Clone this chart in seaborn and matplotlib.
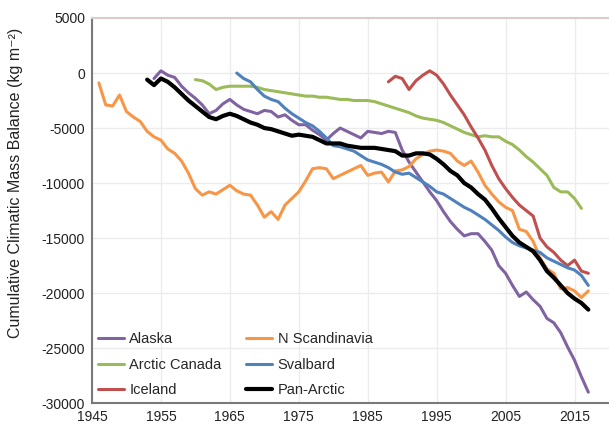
import matplotlib
matplotlib.use("Agg")
import matplotlib.pyplot as plt
import seaborn as sns
import pandas as pd

# cumulative climatic mass balance (kg m-2)
alaska_years = list(range(1954, 2018))
alaska = [-500, 200, -200, -400, -1200, -1800, -2300, -2900, -3700, -3400,
          -2800, -2400, -2900, -3300, -3500, -3700, -3400, -3500, -4000, -3800,
          -4300, -4700, -4700, -5200, -5600, -6100, -5500, -5000, -5300, -5600,
          -5900, -5300, -5400, -5500, -5300, -5400, -7000, -8100, -9000, -9900,
          -10800, -11600, -12600, -13500, -14200, -14800, -14600, -14600, -15300, -16100,
          -17500, -18200, -19300, -20300, -19900, -20600, -21200, -22300, -22700, -23600,
          -24900, -26100, -27600, -29000]

canada_years = list(range(1960, 2017))
canada = [-600, -700, -1000, -1500, -1300, -1200, -1200, -1200, -1200, -1300,
          -1500, -1600, -1700, -1800, -1900, -2000, -2100, -2100, -2200, -2200,
          -2300, -2400, -2400, -2500, -2500, -2500, -2600, -2800, -3000, -3200,
          -3400, -3600, -3900, -4100, -4200, -4300, -4500, -4800, -5100, -5400,
          -5600, -5800, -5700, -5800, -5800, -6200, -6500, -7000, -7600, -8100,
          -8700, -9300, -10400, -10800, -10800, -11400, -12300]

iceland_years = list(range(1988, 2018))
iceland = [-800, -300, -500, -1500, -700, -200, 200, -200, -1000, -2000,
           -2900, -3800, -4900, -5900, -7000, -8400, -9600, -10500, -11300, -12000,
           -12500, -13000, -15000, -15800, -16300, -17000, -17500, -17000, -18000, -18200]

scand_years = list(range(1946, 2018))
scand = [-900, -2900, -3000, -2000, -3500, -4000, -4400, -5300, -5800, -6100,
         -6900, -7300, -8000, -9100, -10500, -11100, -10800, -11000, -10600, -10200,
         -10700, -11000, -11100, -12000, -13100, -12600, -13300, -12000, -11400, -10800,
         -9800, -8700, -8600, -8700, -9600, -9300, -9000, -8700, -8400, -9300,
         -9100, -9000, -9900, -8900, -8800, -8500, -7800, -7400, -7100, -7000,
         -7100, -7300, -8000, -8400, -8000, -9000, -10200, -11000, -11700, -12200,
         -12500, -14200, -14400, -15300, -16800, -17800, -18200, -19600, -19500, -19800,
         -20400, -19800]

svalbard_years = list(range(1966, 2018))
svalbard = [0, -500, -800, -1500, -2100, -2400, -2600, -3200, -3700, -4100,
            -4500, -4800, -5300, -5900, -6600, -6700, -6900, -7100, -7500, -7900,
            -8100, -8300, -8600, -9000, -9200, -9100, -9500, -9900, -10300, -10800,
            -11000, -11400, -11800, -12200, -12500, -12900, -13300, -13800, -14300, -14900,
            -15400, -15700, -15900, -16100, -16300, -16800, -17100, -17400, -17700, -17900,
            -18400, -19300]

pan_years = list(range(1953, 2018))
pan = [-600, -1100, -500, -800, -1300, -1900, -2500, -3000, -3500, -4000,
       -4200, -3900, -3700, -3900, -4200, -4500, -4700, -5000, -5100, -5300,
       -5500, -5700, -5600, -5700, -5800, -6100, -6400, -6400, -6400, -6600,
       -6700, -6800, -6800, -6800, -6900, -7000, -7100, -7500, -7500, -7300,
       -7300, -7400, -7800, -8300, -8900, -9300, -10000, -10400, -11000, -11500,
       -12300, -13200, -14000, -14800, -15400, -15800, -16200, -17000, -18000, -18600,
       -19300, -20000, -20500, -20900, -21500]

series = [
    ("Alaska", alaska_years, alaska, "#8064a2", 2.2),
    ("Arctic Canada", canada_years, canada, "#9bbb59", 2.2),
    ("Iceland", iceland_years, iceland, "#c0504d", 2.2),
    ("N Scandinavia", scand_years, scand, "#f79646", 2.2),
    ("Svalbard", svalbard_years, svalbard, "#4f81bd", 2.2),
    ("Pan-Arctic", pan_years, pan, "#000000", 3.0),
]

sns.set_theme(style="whitegrid")
plt.rcParams["font.family"] = ["Liberation Sans", "DejaVu Sans"]
plt.rcParams["axes.unicode_minus"] = False

fig = plt.figure(figsize=(6.09, 4.28), dpi=100)
ax = fig.add_axes([0.151, 0.058, 0.849, 0.9])

for name, yrs, vals, col, lw in series:
    df = pd.DataFrame({"year": yrs, "value": vals})
    sns.lineplot(data=df, x="year", y="value", ax=ax, color=col, linewidth=lw, label=name)

ax.set_xlim(1945, 2020)
ax.set_ylim(-30000, 5000)
ax.set_xticks(range(1945, 2020, 10))
ax.set_yticks(range(-30000, 5001, 5000))
ax.tick_params(axis="both", labelsize=10, colors="#808080", length=3, width=1,
               direction="out", pad=2)
for lbl in ax.get_xticklabels() + ax.get_yticklabels():
    lbl.set_color("#222222")
ax.set_xlabel("")
ax.set_ylabel("Cumulative Climatic Mass Balance (kg m⁻²)", fontsize=11.5,
              color="#222222")
ax.yaxis.set_label_coords(-0.133, 0.571)

ax.grid(True, color="#ececec", linewidth=1)
ax.set_facecolor("white")
for side in ["left", "bottom"]:
    ax.spines[side].set_color("#7a7a7a")
    ax.spines[side].set_linewidth(1.5)
ax.spines["top"].set_color("#d8cccc")
ax.spines["top"].set_linewidth(1.5)
ax.spines["right"].set_visible(False)

ax.legend(loc="lower left", ncol=2, frameon=False, fontsize=10.5,
          handlelength=1.8, handletextpad=0.35, columnspacing=1.7,
          labelspacing=0.8, borderaxespad=0.0, borderpad=0.4)

fig.savefig("out.png", dpi=100)
